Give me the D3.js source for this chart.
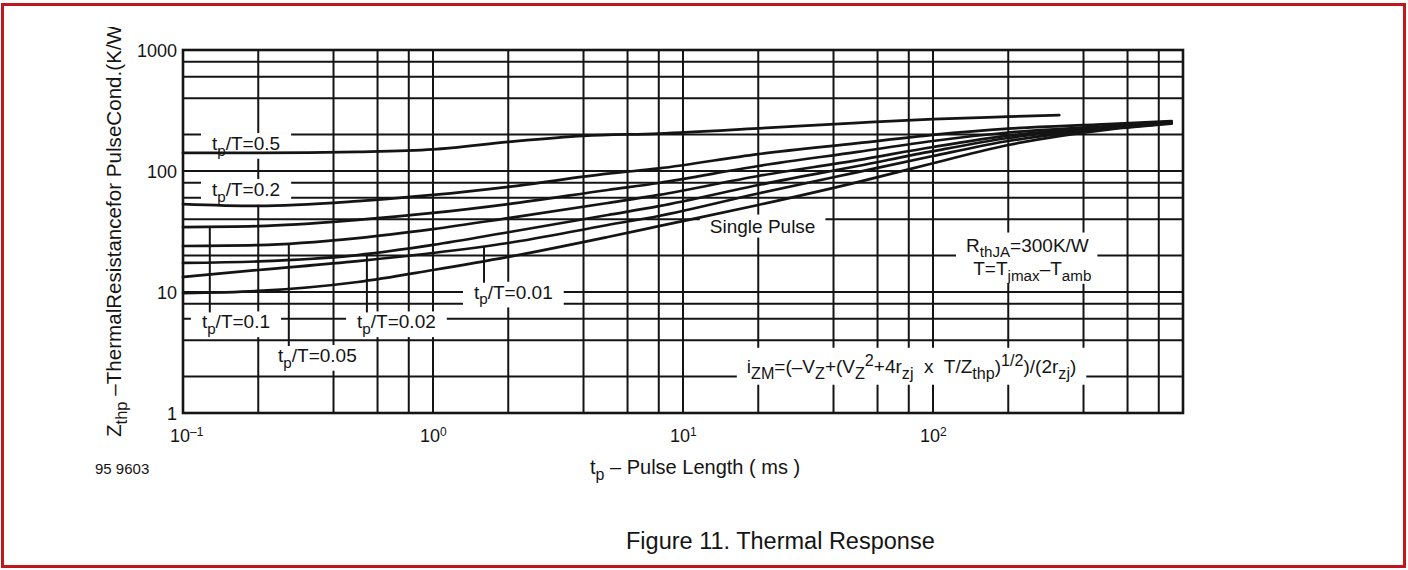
<!DOCTYPE html>
<html><head><meta charset="utf-8">
<script src="https://cdn.jsdelivr.net/npm/d3@7"></script>
<style>
html,body{margin:0;padding:0;background:#fff;}
svg{display:block;font-family:"Liberation Sans",Arial,Helvetica,sans-serif;}
text{white-space:pre;}
</style>
</head><body>
<svg id="chart" width="1408" height="570"></svg>
<script>
// ---------------- data ----------------
const tpPoints = [0.1, 0.2, 0.5, 1, 2, 5, 8, 20, 50, 100, 200, 500, 900];      // ms
const tpHalf   = [0.1, 0.2, 0.5, 1, 2, 4, 8, 20, 50, 100, 200, 320];          // ms (tp/T = 0.5 curve)
const zHalf    = [141, 141, 144, 151, 174, 195, 204, 225, 250, 268, 281, 290];
const z02      = [53.3, 51.4, 56.3, 63.4, 74, 95, 105, 138, 170, 199, 224, 244, 259];
const z01      = [34.4, 35, 39.4, 45, 53.3, 69.7, 79.6, 110, 144, 177, 208, 235, 256];
const z005     = [24, 24.4, 27.9, 33.1, 40.8, 54.4, 63.4, 91, 123, 158, 196, 231, 254];
const z002     = [17.4, 17.9, 20.2, 24.5, 31.2, 43.3, 51.2, 76.6, 110, 146, 187.5, 227, 251];
const z001     = [13.3, 15.2, 18, 21, 25.4, 35.8, 42.5, 65.2, 98, 133, 177, 223, 249];
const zSingle  = [9.8, 10.2, 12.1, 15.2, 19.5, 28.5, 35, 52.4, 81, 116, 164, 220, 246];

const xGridValues = [0.2,0.4,0.6,0.8,1,2,4,6,8,10,20,40,60,80,100,200,400,600,800];
const yGridValues = [2,4,6,8,10,20,40,60,80,100,200,400,600,800];
const yTickValues = [1, 10, 100, 1000];
const xTickExponents = [-1, 0, 1, 2];

// duty-cycle labels: text anchor (tp, Z) and optional leader position (tp)
const dutyLabels = [
  {key:"0.5",  tp:0.1306, z:149,  leader:null},
  {key:"0.2",  tp:0.1306, z:62.1, leader:null},
  {key:"0.1",  tp:0.119,  z:5.0,  leader:0.128},
  {key:"0.05", tp:0.240,  z:2.64, leader:0.265},
  {key:"0.02", tp:0.497,  z:5.0,  leader:0.544},
  {key:"0.01", tp:1.459,  z:8.8,  leader:1.6}
];

// ---------------- layout ----------------
const svg = d3.select("#chart");
const W = 1408, H = 570;
const x = d3.scaleLog().domain([0.1, 1000]).range([183, 1183]);
const y = d3.scaleLog().domain([1, 1000]).range([413, 50]);
const ink = "#141414";

svg.append("defs").append("clipPath").attr("id", "pageClip")
  .append("rect").attr("x", 0).attr("y", 27).attr("width", W).attr("height", H - 27);

// red outer border
svg.append("rect").attr("x", 2.5).attr("y", 4.5).attr("width", W - 6).attr("height", H - 8)
  .attr("fill", "none").attr("stroke", "#c0171d").attr("stroke-width", 3);

const gGrid = svg.append("g");
const gMask = svg.append("g");
const gLead = svg.append("g");
const gCurves = svg.append("g");
const gFrame = svg.append("g");
const gText = svg.append("g").attr("fill", ink);

// gridlines
gGrid.selectAll("line.v").data(xGridValues).join("line")
  .attr("x1", d => x(d)).attr("x2", d => x(d)).attr("y1", y(1)).attr("y2", y(1000))
  .attr("stroke", ink).attr("stroke-width", 2);
gGrid.selectAll("line.h").data(yGridValues).join("line")
  .attr("y1", d => y(d)).attr("y2", d => y(d)).attr("x1", x(0.1)).attr("x2", x(1000))
  .attr("stroke", ink).attr("stroke-width", 2);

// curves
const series = [
  {key:"0.5", tp:tpHalf, z:zHalf},
  {key:"0.2", tp:tpPoints, z:z02},
  {key:"0.1", tp:tpPoints, z:z01},
  {key:"0.05", tp:tpPoints, z:z005},
  {key:"0.02", tp:tpPoints, z:z002},
  {key:"0.01", tp:tpPoints, z:z001},
  {key:"single", tp:tpPoints, z:zSingle}
];
const line = d3.line().x(d => x(d[0])).y(d => y(d[1])).curve(d3.curveMonotoneX);
series.forEach(s => {
  gCurves.append("path").datum(s.tp.map((t, i) => [t, s.z[i]]))
    .attr("d", line).attr("fill", "none").attr("stroke", ink)
    .attr("stroke-width", 2.7).attr("stroke-linejoin", "round").attr("stroke-linecap", "round");
});

// frame
gFrame.append("rect").attr("x", x(0.1)).attr("y", y(1000))
  .attr("width", x(1000) - x(0.1)).attr("height", y(1) - y(1000))
  .attr("fill", "none").attr("stroke", ink).attr("stroke-width", 2.6);

// helper: rich text with sub/superscripts. parts: [text, mode] mode: "", "sub", "sup"
function rich(g, parts, px, py, size, anchor, subScale) {
  const k = subScale || 0.8;
  const t = g.append("text").attr("x", px).attr("y", py).attr("font-size", size)
    .attr("text-anchor", anchor || "start");
  let shift = 0;
  parts.forEach(([s, m]) => {
    const target = m === "sub" ? size * 0.3 : m === "sup" ? -size * 0.38 : 0;
    t.append("tspan").text(s).attr("dy", target - shift)
      .attr("font-size", m ? size * k : size);
    shift = target;
  });
  return t;
}
function maskBehind(t, padX, padY) {
  const b = t.node().getBBox();
  gMask.append("rect").attr("x", b.x - padX).attr("y", b.y - padY)
    .attr("width", b.width + 2 * padX).attr("height", b.height + 2 * padY).attr("fill", "#fff");
  return b;
}
function interpZ(s, tp) {
  const lt = Math.log10(tp);
  for (let i = 0; i < s.tp.length - 1; i++) {
    const a = Math.log10(s.tp[i]), b = Math.log10(s.tp[i + 1]);
    if (lt >= a && lt <= b) {
      const f = (lt - a) / (b - a);
      return Math.pow(10, Math.log10(s.z[i]) + f * (Math.log10(s.z[i + 1]) - Math.log10(s.z[i])));
    }
  }
  return s.z[0];
}

const fs = 19;
// duty-cycle labels
dutyLabels.forEach(L => {
  const t = rich(gText, [["t",""],["p","sub"],["/T=" + L.key,""]], x(L.tp), y(L.z), fs);
  const b = maskBehind(t, 11, 0);
  if (L.leader != null) {
    const s = series.find(q => q.key === L.key);
    const cy = y(interpZ(s, L.leader));
    gLead.append("line").attr("x1", x(L.leader)).attr("x2", x(L.leader))
      .attr("y1", cy).attr("y2", b.y + 1).attr("stroke", ink).attr("stroke-width", 2);
  }
});

// Single Pulse
const sp = rich(gText, [["Single Pulse",""]], x(12.8), y(31.0), fs);
maskBehind(sp, 10, 1);

// Rth block
const r1 = rich(gText, [["R",""],["thJA","sub"],["=300K/W",""]], x(420), y(21.6), fs, "end");
const r2 = rich(gText, [["T=T",""],["jmax","sub"],["–T",""],["amb","sub"]], x(430), y(13.8), fs, "end");
{
  const b1 = r1.node().getBBox(), b2 = r2.node().getBBox();
  const x0 = Math.min(b1.x, b2.x) - 10, x1 = Math.max(b1.x + b1.width, b2.x + b2.width) + 6;
  gMask.append("rect").attr("x", x0).attr("y", b1.y - 2).attr("width", x1 - x0)
    .attr("height", b2.y + b2.height - b1.y + 2).attr("fill", "#fff");
}

// formula
const fm = rich(gText, [["i",""],["ZM","sub"],["=(–V",""],["Z","sub"],["+(V",""],["Z","sub"],["2","sup"],
  ["+4r",""],["zj","sub"],["  x  T/Z",""],["thp","sub"],[")",""],["1/2","sup"],[")/(2r",""],["zj","sub"],[")",""]],
  x(18.0), y(2.14), fs, "start", 0.85);
maskBehind(fm, 10, 3);

// y tick labels
yTickValues.forEach(v => {
  gText.append("text").attr("x", x(0.1) - 6).attr("y", y(v) + 6.5).attr("text-anchor", "end")
    .attr("font-size", 18).text(d3.format("d")(v));
});
// x tick labels 10^n
xTickExponents.forEach(e => {
  const t = gText.append("text").attr("x", x(Math.pow(10, e)) - 13).attr("y", 442).attr("font-size", 18);
  t.append("tspan").text("10");
  t.append("tspan").text(e < 0 ? "–" + (-e) : String(e)).attr("font-size", 12).attr("dy", -6);
});

// axis titles
rich(gText, [["t",""],["p","sub"],[" – Pulse Length ( ms )",""]], 590, 474, 20);
gText.append("text").attr("x", 95).attr("y", 474).attr("font-size", 15).text("95 9603");
const ytG = gText.append("g").attr("clip-path", "url(#pageClip)");
const yt = rich(ytG, [["Z",""],["thp","sub"],[" –ThermalResistancefor PulseCond.(K/W)",""]], 0, 0, 20.6);
yt.attr("transform", "translate(121,437) rotate(-90)");

// caption
gText.append("text").attr("x", 626).attr("y", 549).attr("font-size", 23.5).text("Figure 11. Thermal Response");
</script>
</body></html>
